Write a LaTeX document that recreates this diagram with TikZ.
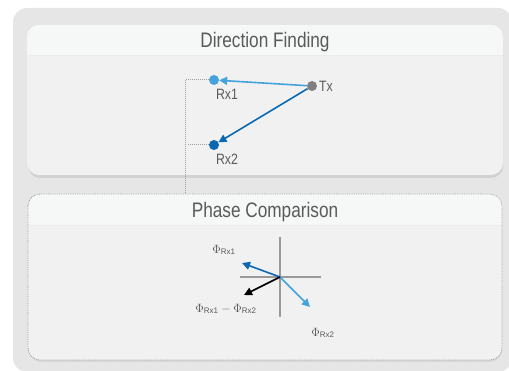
\documentclass[tikz,border=0pt]{standalone}
\usepackage{fontspec}
\setmainfont{Liberation Sans}
\newfontfamily\cond[FakeStretch=0.82]{Liberation Sans}
\usetikzlibrary{arrows.meta}
\definecolor{outerbg}{HTML}{E6E6E6}
\definecolor{boxbg}{HTML}{F1F1F1}
\definecolor{headbg}{HTML}{F6F7F7}
\definecolor{lblue}{HTML}{44A2DC}
\definecolor{dblue}{HTML}{0B68B3}
\definecolor{txtgray}{HTML}{5A5A5A}
\definecolor{dotgray}{HTML}{A0A0A0}
\tikzset{
  panel/.style={fill=boxbg, rounded corners=12pt},
  dotnode/.style={circle, inner sep=0pt, minimum size=10pt},
  lbl/.style={font=\cond\fontsize{15}{15}\selectfont, text=txtgray, inner sep=1pt},
  title/.style={font=\cond\fontsize{21}{21}\selectfont, text=txtgray},
  phi/.style={font=\fontsize{12}{12}\selectfont, text=txtgray, inner sep=1pt},
  dotline/.style={draw=dotgray, densely dotted, line width=1pt},
  vec/.style={line width=1.6pt, -{Triangle[length=8pt,width=8pt]}},
  axis/.style={draw=gray!80, line width=1.5pt}
}
\begin{document}
\begin{tikzpicture}[x=1pt,y=-1pt]
\useasboundingbox (0,0) rectangle (509,371);
% outer panel
\fill[outerbg, rounded corners=14pt] (13,8) rectangle (512,372);
% top box
\fill[black!18, rounded corners=12pt] (28,28) rectangle (503,178);
\fill[panel] (27,25) rectangle (503,175);
\begin{scope}
\clip[rounded corners=12pt] (27,25) rectangle (503,175);
\fill[headbg] (27,25) rectangle (503,55);
\draw[white!85!gray, line width=0.8pt] (27,55) -- (503,55);
\end{scope}
\node[title] (t1) at (265,42) {Direction Finding};
% bottom box
\fill[black!15, rounded corners=12pt] (29,197) rectangle (502,362);
\fill[panel] (28,194) rectangle (502,360);
\begin{scope}
\clip[rounded corners=12pt] (28,194) rectangle (502,360);
\fill[headbg] (28,194) rectangle (502,225);
\draw[white!85!gray, line width=0.8pt] (28,225) -- (502,225);
\end{scope}
\draw[dotgray, densely dotted, line width=0.8pt, rounded corners=12pt] (28,194) rectangle (502,360);
\node[title] (t2) at (265,212) {Phase Comparison};
% direction finding nodes
\node[dotnode, fill=lblue] (rx1) at (214,80) {};
\node[dotnode, fill=gray] (tx) at (312,86) {};
\node[dotnode, fill=dblue] (rx2) at (214,145) {};
\node[lbl, anchor=north] (rx1l) at (227,88) {Rx1};
\node[lbl, anchor=north] (rx2l) at (227,153) {Rx2};
\node[lbl, anchor=west] (txl) at (318,86) {Tx};
\draw[vec, lblue] (tx) -- (rx1);
\draw[vec, dblue] (tx) -- (rx2);
% dotted link
\coordinate (dtop) at (185,80);
\coordinate (dmid) at (188,145);
\coordinate (dbot) at (185,194);
\draw[dotline] (rx1.west) -- (dtop) -- (dbot);
\draw[dotline] (rx2.west) -- (dmid);
% phase diagram
\coordinate (o) at (280,277);
\coordinate (ax1) at (280,237);
\coordinate (ax2) at (280,317);
\coordinate (ax3) at (240,277);
\coordinate (ax4) at (321,277);
\draw[axis] (ax1) -- (ax2);
\draw[axis] (ax3) -- (ax4);
\coordinate (p1) at (242,263);
\coordinate (p2) at (310,307);
\coordinate (pd) at (244,295);
\draw[vec, dblue] (o) -- (p1);
\draw[vec, lblue] (o) -- (p2);
\draw[vec, black] (o) -- (pd);
\node[phi] (l1) at (224,250) {$\Phi_{\mathrm{Rx1}}$};
\node[phi] (l2) at (323,333) {$\Phi_{\mathrm{Rx2}}$};
\node[phi] (ld) at (226,309) {$\Phi_{\mathrm{Rx1}}-\Phi_{\mathrm{Rx2}}$};
\end{tikzpicture}
\end{document}
